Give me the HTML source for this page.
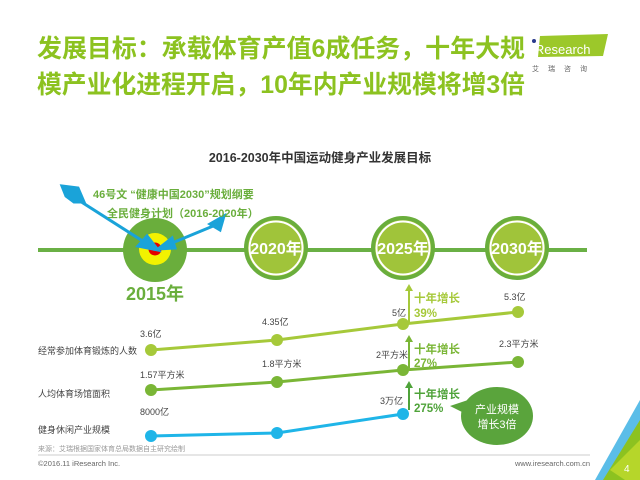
<!DOCTYPE html>
<html><head><meta charset="utf-8"><style>
html,body{margin:0;padding:0;background:#fff;}
svg{display:block;font-family:"Liberation Sans","Noto Sans CJK SC",sans-serif;}
</style></head><body>
<svg width="640" height="480" viewBox="0 0 640 480" xmlns="http://www.w3.org/2000/svg">
<text x="37" y="57" font-size="25" font-weight="bold" fill="#8cc220" textLength="488" lengthAdjust="spacingAndGlyphs">发展目标：承载体育产值6成任务，十年大规</text>
<text x="37" y="93" font-size="25" font-weight="bold" fill="#8cc220" textLength="488" lengthAdjust="spacingAndGlyphs">模产业化进程开启，10年内产业规模将增3倍</text>
<!-- logo -->
<polygon points="540,36 608,34 603,56 538,57" fill="#9cc82a"/>
<circle cx="534" cy="41" r="2" fill="#2a3a8c"/>
<text x="532" y="54" font-size="13" fill="#fff">iResearch</text>
<text x="532" y="71" font-size="7" fill="#666" letter-spacing="9">艾瑞咨询</text>
<text x="320" y="162" font-size="12.5" font-weight="bold" fill="#333" text-anchor="middle">2016-2030年中国运动健身产业发展目标</text>
<!-- timeline -->
<line x1="38" y1="250" x2="587" y2="250" stroke="#6ab045" stroke-width="4"/>
<circle cx="155" cy="250" r="32" fill="#6aae3c"/>
<circle cx="155" cy="249" r="16" fill="#f2f200"/>
<circle cx="155" cy="249" r="6.5" fill="#e20000"/>
<text x="155" y="300" font-size="18" font-weight="bold" fill="#6aae3c" text-anchor="middle">2015年</text>
<g stroke="#1aa3d9" stroke-width="3" fill="#1aa3d9">
<line x1="72" y1="196" x2="152" y2="247"/>
<polygon points="158,250 138,246 147,236"/>
<polygon points="62,186 78,188 84,202 74,202 66,196" />
<line x1="218" y1="224" x2="160" y2="248"/>
<polygon points="158,249 172,238 175,248"/>
<polygon points="210,224 224,216 220,230" />
</g>
<g font-size="11" font-weight="bold" fill="#6aae3c">
<text x="93" y="198">46号文 “健康中国2030”规划纲要</text>
<text x="107" y="217">全民健身计划（2016-2020年）</text>
</g>
<g stroke="#6aae3c" stroke-width="4" fill="#a0c43a">
<circle cx="276" cy="248" r="30"/><circle cx="403" cy="248" r="30"/><circle cx="517" cy="248" r="30"/>
</g>
<g stroke="#fff" stroke-width="2" fill="none">
<circle cx="276" cy="248" r="26.5"/><circle cx="403" cy="248" r="26.5"/><circle cx="517" cy="248" r="26.5"/>
</g>
<g font-size="16" font-weight="bold" fill="#fff" text-anchor="middle">
<text x="276" y="254">2020年</text><text x="403" y="254">2025年</text><text x="517" y="254">2030年</text>
</g>
<!-- rows -->
<polyline points="151,350 277,340 403,324 518,312" stroke="#a6c93a" stroke-width="3" fill="none"/>
<g fill="#a6c93a"><circle cx="151" cy="350" r="6"/><circle cx="277" cy="340" r="6"/><circle cx="403" cy="324" r="6"/><circle cx="518" cy="312" r="6"/></g>
<polyline points="151,390 277,382 403,370 518,362" stroke="#7ab636" stroke-width="3" fill="none"/>
<g fill="#7ab636"><circle cx="151" cy="390" r="6"/><circle cx="277" cy="382" r="6"/><circle cx="403" cy="370" r="6"/><circle cx="518" cy="362" r="6"/></g>
<polyline points="151,436 277,433 403,414" stroke="#1fb5e8" stroke-width="3" fill="none"/>
<g fill="#1fb5e8"><circle cx="151" cy="436" r="6"/><circle cx="277" cy="433" r="6"/><circle cx="403" cy="414" r="6"/></g>
<g font-size="9" fill="#444">
<text x="38" y="354">经常参加体育锻炼的人数</text>
<text x="38" y="397">人均体育场馆面积</text>
<text x="38" y="433">健身休闲产业规模</text>
<text x="140" y="337">3.6亿</text>
<text x="262" y="325">4.35亿</text>
<text x="392" y="316">5亿</text>
<text x="504" y="300">5.3亿</text>
<text x="140" y="378">1.57平方米</text>
<text x="262" y="367">1.8平方米</text>
<text x="376" y="358">2平方米</text>
<text x="499" y="347">2.3平方米</text>
<text x="140" y="415">8000亿</text>
<text x="380" y="404">3万亿</text>
</g>
<g stroke-width="2">
<line x1="409" y1="322" x2="409" y2="290" stroke="#a6c93a"/>
<line x1="409" y1="368" x2="409" y2="341" stroke="#7ab636"/>
<line x1="409" y1="410" x2="409" y2="387" stroke="#4fa33a"/>
</g>
<polygon points="405,291 413,291 409,284" fill="#a6c93a"/>
<polygon points="405,342 413,342 409,335" fill="#7ab636"/>
<polygon points="405,388 413,388 409,381" fill="#4fa33a"/>
<g font-size="11.5" font-weight="bold">
<text x="414" y="302" fill="#a6c93a">十年增长</text><text x="414" y="317" fill="#a6c93a">39%</text>
<text x="414" y="353" fill="#7ab636">十年增长</text><text x="414" y="367" fill="#7ab636">27%</text>
<text x="414" y="398" fill="#4fa33a">十年增长</text><text x="414" y="412" fill="#4fa33a">275%</text>
</g>
<ellipse cx="497" cy="416" rx="36" ry="29" fill="#5aa43c"/>
<polygon points="450,406 468,400 470,416" fill="#5aa43c"/>
<g font-size="11" fill="#fff" text-anchor="middle"><text x="497" y="413">产业规模</text><text x="497" y="428">增长3倍</text></g>
<!-- footer -->
<text x="38" y="451" font-size="7" fill="#999">来源：艾瑞根据国家体育总局数据自主研究绘制</text>
<line x1="38" y1="455" x2="590" y2="455" stroke="#ccc" stroke-width="1"/>
<text x="38" y="466" font-size="7.5" fill="#666">©2016.11 iResearch Inc.</text>
<text x="590" y="466" font-size="7.5" fill="#666" text-anchor="end">www.iresearch.com.cn</text>
<polygon points="640,400 640,440 610,480 595,480" fill="#5bbde8"/>
<polygon points="640,420 640,480 603,480" fill="#8cc220"/>
<polygon points="640,440 640,480 625,480 610,470" fill="#b6d62a"/>
<text x="624" y="472" font-size="10" fill="#fff">4</text>
</svg>
</body></html>
